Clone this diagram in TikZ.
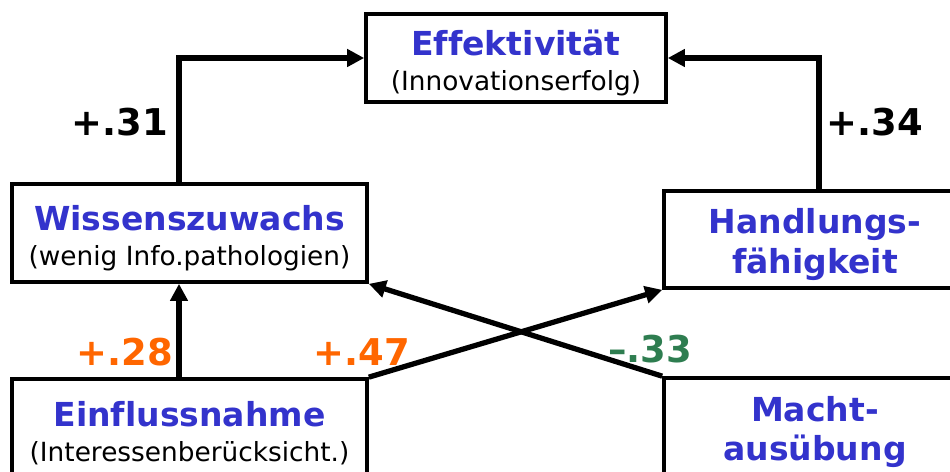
\documentclass[tikz,border=0pt]{standalone}
\usepackage{fontspec}
\setmainfont{DejaVu Sans}[Ligatures=NoCommon]
\usepackage{tikz}
\usetikzlibrary{arrows.meta,positioning,calc}

\definecolor{titleblue}{HTML}{3333CC}
\definecolor{posorange}{HTML}{FF6600}
\definecolor{neggreen}{HTML}{2E7D50}

% first line gets extra room on top, so the text sits a bit low as in the original
\newcommand{\boxtitle}[1]{{\bfseries\color{titleblue}#1}}
\newcommand{\toptitle}[1]{\rule{0pt}{20pt}\boxtitle{#1}}
\newcommand{\boxsub}[1]{{\fontsize{15}{17}\selectfont #1}}

\begin{document}
\begin{tikzpicture}[
    x=0.02cm, y=-0.02cm,
    block/.style={rectangle, draw, line width=2.1pt, fill=white, align=center,
        font=\fontsize{18.8}{20}\selectfont, inner sep=0pt},
    line/.style={draw, line width=3pt, -{Triangle[length=0.34cm,width=0.34cm]}},
    weight/.style={font=\bfseries\fontsize{21}{24}\selectfont}
]
    \useasboundingbox (0,0) rectangle (950,472);
    \clip (0,0) rectangle (950,472);

    \node [block, minimum width=6cm, minimum height=1.76cm] (eff) at (516,58)
        {\toptitle{Effektivität}\\ \boxsub{(Innovationserfolg)}};
    \node [block, minimum width=7.1cm, minimum height=1.96cm] (wiss) at (189.5,233)
        {\toptitle{Wissenszuwachs}\\ \boxsub{(wenig Info.pathologien)}};
    \node [block, minimum width=6.04cm, minimum height=1.94cm] (hand) at (815,239.5)
        {\toptitle{Handlungs-}\\[2.7pt] \boxtitle{fähigkeit}};
    \node [block, minimum width=7.1cm, minimum height=1.96cm] (einf) at (189.5,428)
        {\toptitle{Einflussnahme}\\ \boxsub{(Interessenberücksicht.)}};
    \node [block, minimum width=6.04cm, minimum height=1.96cm] (macht) at (815,427)
        {\toptitle{Macht-}\\[2.7pt] \boxtitle{ausübung}};

    \draw [line] ([xshift=-0.21cm]wiss.north) |- (eff.west);
    \draw [line] ([xshift=0.08cm]hand.north) |- (eff.east);
    \draw [line] ([xshift=-0.21cm]einf.north) -- ([xshift=-0.21cm]wiss.south);
    \draw [line] (einf.north east) -- (hand.south west);
    \draw [line] (macht.north west) -- (wiss.south east);

    \node [weight] (w31) at (120,122) {+.31};
    \node [weight] (w34) at (875,122) {+.34};
    \node [weight, text=posorange] (w28) at (125,352) {+.28};
    \node [weight, text=posorange] (w47) at (362,352) {+.47};
    \node [weight, text=neggreen] (w33) at (650,349) {–.33};
\end{tikzpicture}
\end{document}
